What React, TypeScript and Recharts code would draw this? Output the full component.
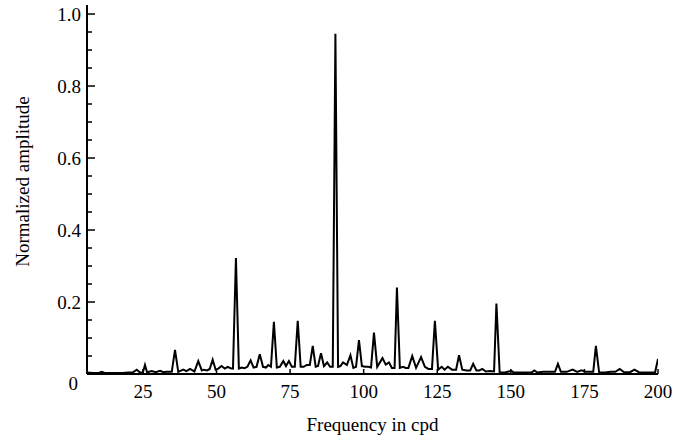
import React from "react";
import { LineChart, Line, XAxis, YAxis } from "recharts";

const FREQS = [
  6, 8, 10, 11, 12, 15, 18, 20, 21.5, 22.9, 24, 25, 25.7, 26.4, 28, 29.3, 30.8, 32, 33, 34.8,
  35.9, 37, 38.7, 39.8, 41, 42.5, 43.8, 45, 45.7, 46.8, 47.7, 48.7, 49.7, 50.6, 51.7, 52.8, 53.8, 54.8, 55.6, 56.6,
  57.6, 58.5, 59.5, 60.5, 61.6, 62.6, 63.6, 64.7, 65.8, 66.8, 67.6, 68.5, 69.5, 70.5, 71.5, 72.7, 73.6, 74.6, 75.6, 76.6,
  77.6, 78.6, 79.6, 80.7, 81.7, 82.7, 83.7, 84.5, 85.5, 86.5, 87.6, 88.6, 89.5, 90.4, 91.3, 92.1, 93, 94.3, 95.5, 96.5,
  97.4, 98.4, 99.4, 100.5, 101.6, 102.5, 103.5, 104.6, 106.4, 107.5, 108.6, 109.6, 110.5, 111.3, 112.3, 113.4, 114.3, 115.2, 116.5, 117.8,
  119.5, 120.8, 122, 123.2, 124.2, 125.3, 126.5, 127.5, 128.6, 130, 131.4, 132.4, 133.5, 135, 136.2, 137.2, 138.3, 139.3, 140.3, 141.5,
  143, 144.3, 145.1, 146.2, 148, 150.2, 151, 155, 157, 158, 159, 161, 163, 165, 166, 167, 169, 171, 172.5, 174,
  175.5, 177, 178, 178.9, 180, 182, 184, 185.5, 187, 188.5, 190.5, 192, 193.5, 196, 198, 199, 200,
];

const AMPS = [
  0.004, 0.003, 0.003, 0.006, 0.003, 0.003, 0.003, 0.004, 0.004, 0.012, 0.004, 0.005, 0.025, 0.005, 0.008, 0.005, 0.009, 0.005, 0.006, 0.006,
  0.067, 0.006, 0.012, 0.008, 0.014, 0.007, 0.036, 0.01, 0.012, 0.01, 0.014, 0.04, 0.012, 0.015, 0.022, 0.015, 0.02, 0.016, 0.015, 0.322,
  0.015, 0.018, 0.016, 0.02, 0.038, 0.018, 0.02, 0.055, 0.02, 0.018, 0.025, 0.02, 0.145, 0.018, 0.02, 0.036, 0.022, 0.036, 0.02, 0.02,
  0.148, 0.02, 0.02, 0.025, 0.025, 0.078, 0.02, 0.022, 0.058, 0.022, 0.032, 0.02, 0.02, 0.945, 0.02, 0.022, 0.032, 0.025, 0.052, 0.017,
  0.02, 0.094, 0.022, 0.02, 0.02, 0.018, 0.115, 0.02, 0.044, 0.026, 0.032, 0.017, 0.017, 0.24, 0.017, 0.02, 0.017, 0.017, 0.05, 0.017,
  0.047, 0.02, 0.014, 0.014, 0.148, 0.012, 0.02, 0.012, 0.02, 0.012, 0.012, 0.052, 0.012, 0.01, 0.01, 0.028, 0.01, 0.01, 0.014, 0.007,
  0.008, 0.007, 0.196, 0.004, 0.004, 0.009, 0.004, 0.004, 0.004, 0.01, 0.004, 0.006, 0.006, 0.006, 0.028, 0.006, 0.006, 0.012, 0.006, 0.01,
  0.006, 0.006, 0.006, 0.078, 0.004, 0.004, 0.006, 0.006, 0.014, 0.005, 0.005, 0.012, 0.005, 0.004, 0.004, 0.004, 0.042,
];

const X_TICKS = [25, 50, 75, 100, 125, 150, 175, 200];
const Y_MAJOR = [0, 0.2, 0.4, 0.6, 0.8, 1.0];
const Y_TICKS = [
  0, 0.05, 0.1, 0.15, 0.2, 0.25, 0.3, 0.35, 0.4, 0.45, 0.5, 0.55, 0.6, 0.65, 0.7, 0.75, 0.8, 0.85, 0.9, 0.95, 1.0,
];
const Y_LABELS: Record<string, string> = { "0": "0", "0.2": "0.2", "0.4": "0.4", "0.6": "0.6", "0.8": "0.8", "1": "1.0" };

const data = FREQS.map((f, i) => ({ f, a: AMPS[i] }));

const W = 674;
const H = 439;
const MARGIN = { top: 5, right: 16, bottom: 0, left: 0 };
const Y_AXIS_W = 87;
const X_AXIS_H = 65;
const AXIS_X = MARGIN.left + Y_AXIS_W;
const AXIS_Y = H - MARGIN.bottom - X_AXIS_H;
const FONT = "'Liberation Serif', 'Times New Roman', serif";
const textStyle = { fontFamily: FONT };

function YTick(props: any) {
  const { y, payload } = props;
  const v = payload.value;
  const isMajor = Y_MAJOR.some((m) => Math.abs(m - v) < 1e-6);
  const len = isMajor ? 8 : 5;
  const key = String(Math.round(v * 100) / 100);
  return (
    <g>
      <line x1={AXIS_X} x2={AXIS_X + len} y1={y} y2={y} stroke="#000" strokeWidth={1.5} />
      {isMajor && (
        <text
          x={v === 0 ? AXIS_X - 9 : AXIS_X - 6}
          y={v === 0 ? y + 9 : y}
          dy="0.35em"
          textAnchor="end"
          style={textStyle}
          fontSize={19}
          fill="#000"
        >
          {Y_LABELS[key]}
        </text>
      )}
    </g>
  );
}

function XTick(props: any) {
  const { x, payload } = props;
  return (
    <g>
      <line x1={x} x2={x} y1={AXIS_Y} y2={AXIS_Y - 5} stroke="#000" strokeWidth={1.5} />
      <text x={x} y={AXIS_Y + 17} dy="0.35em" textAnchor="middle" style={textStyle} fontSize={19} fill="#000">
        {payload.value}
      </text>
    </g>
  );
}

export default function App() {
  return (
    <div style={{ position: "absolute", left: 0, top: 0, width: W, height: H, background: "#fff" }}>
      <LineChart width={W} height={H} data={data} margin={MARGIN}>
        <XAxis
          dataKey="f"
          type="number"
          domain={[6, 200]}
          ticks={X_TICKS}
          allowDataOverflow
          height={X_AXIS_H}
          tickSize={0}
          tickLine={false}
          axisLine={{ stroke: "#000", strokeWidth: 2 }}
          tick={<XTick />}
          interval={0}
          label={{
            content: (p: any) => (
              <text
                x={p.viewBox.x + p.viewBox.width / 2}
                y={AXIS_Y + 50}
                dy="0.35em"
                textAnchor="middle"
                style={textStyle}
                fontSize={19}
                fill="#000"
              >
                Frequency in cpd
              </text>
            ),
          }}
        />
        <YAxis
          type="number"
          domain={[0, 1.025]}
          ticks={Y_TICKS}
          allowDataOverflow
          width={Y_AXIS_W}
          tickSize={0}
          tickLine={false}
          axisLine={{ stroke: "#000", strokeWidth: 2 }}
          tick={<YTick />}
          interval={0}
          label={{
            content: (p: any) => {
              const cy = p.viewBox.y + p.viewBox.height / 2 - 8;
              return (
                <text
                  x={22}
                  y={cy}
                  dy="0.35em"
                  textAnchor="middle"
                  transform={`rotate(-90, 22, ${cy})`}
                  style={textStyle}
                  fontSize={19}
                  fill="#000"
                >
                  Normalized amplitude
                </text>
              );
            },
          }}
        />
        <Line
          type="linear"
          dataKey="a"
          stroke="#000"
          strokeWidth={2}
          dot={false}
          isAnimationActive={false}
        />
      </LineChart>
    </div>
  );
}
